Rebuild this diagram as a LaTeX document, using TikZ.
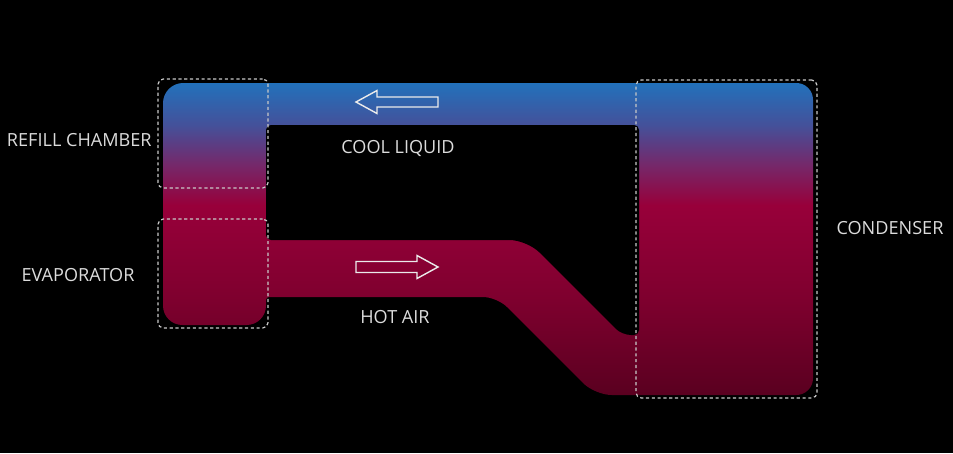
\documentclass[tikz,border=0pt]{standalone}
\usepackage{fontspec}
\setmainfont{Open Sans}
\usepackage{xcolor}
\definecolor{pipeblue}{HTML}{2271BB}
\definecolor{pipeslate}{HTML}{44519A}
\definecolor{pipeplum}{HTML}{75286A}
\definecolor{pipecrimson}{HTML}{98003A}
\definecolor{pipewine}{HTML}{7E002E}
\definecolor{pipedark}{HTML}{5A0020}
\definecolor{labelgrey}{HTML}{DCDCDC}
\definecolor{zonegrey}{HTML}{C8C8C8}
\usetikzlibrary{positioning}
\pgfdeclareverticalshading{pipegrad}{100bp}{color(0bp)=(pipedark); color(25bp)=(pipedark);
  color(40.2bp)=(pipewine); color(55.4bp)=(pipecrimson); color(61.9bp)=(pipeplum);
  color(68.3bp)=(pipeslate); color(75bp)=(pipeblue); color(100bp)=(pipeblue)}

\begin{document}
\begin{tikzpicture}[
  x=0.02cm, y=-0.02cm,
  zone/.style={draw=zonegrey, line width=0.7pt, dash pattern=on 1.8pt off 1.5pt,
               rounded corners=3pt, inner sep=0pt},
  lbl/.style={text=labelgrey, font=\fontsize{10.3}{12}\selectfont,
              inner sep=0pt, text depth=0pt},
  flow/.style={draw=white!92!black, line width=0.8pt, line join=miter}
]
  % background
  \fill[black] (0,0) rectangle (953,453);

  % pipe loop
  \shade[shading=pipegrad, rounded corners=11.5pt] (163,200) -- (163,83)
    [rounded corners=9.5pt] -- (813,83) -- (813,395) -- (595,395)
    [rounded corners=8pt] -- (497,297)
    [rounded corners=1.7pt] -- (266,297)
    [rounded corners=11pt] -- (266,325) -- (163,325) -- cycle;
  \fill[black, rounded corners=2.8pt] (266,180) -- (266,125) -- (639,125) -- (639,335)
    [rounded corners=5pt] -- (622,335)
    [rounded corners=10pt] -- (527,240)
    [rounded corners=2.8pt] -- (266,240) -- cycle;

  % flow arrows
  \draw[flow] (356,102) -- (377,90.5) -- (377,97) -- (438,97) -- (438,107)
    -- (377,107) -- (377,113.5) -- cycle;
  \draw[flow] (438,267) -- (417,255.5) -- (417,261.5) -- (356,261.5) -- (356,272.5)
    -- (417,272.5) -- (417,278.5) -- cycle;

  % zones
  \node[zone, minimum width=2.2cm, minimum height=2.18cm] (refill) at (213,133.5) {};
  \node[zone, minimum width=2.2cm, minimum height=2.18cm] (evaporator) at (213,273.5) {};
  \node[zone, minimum width=3.62cm, minimum height=6.36cm] (condenser) at (726.5,239) {};

  % labels
  \node[lbl, anchor=east] (refilltext) at (152,140) {REFILL CHAMBER};
  \node[lbl] (evaptext) at (78,275) {EVAPORATOR};
  \node[lbl] (condtext) at (890,228) {CONDENSER};
  \node[lbl] (cooltext) at (398,147) {COOL LIQUID};
  \node[lbl] (hottext) at (395,317) {HOT AIR};
\end{tikzpicture}
\end{document}
